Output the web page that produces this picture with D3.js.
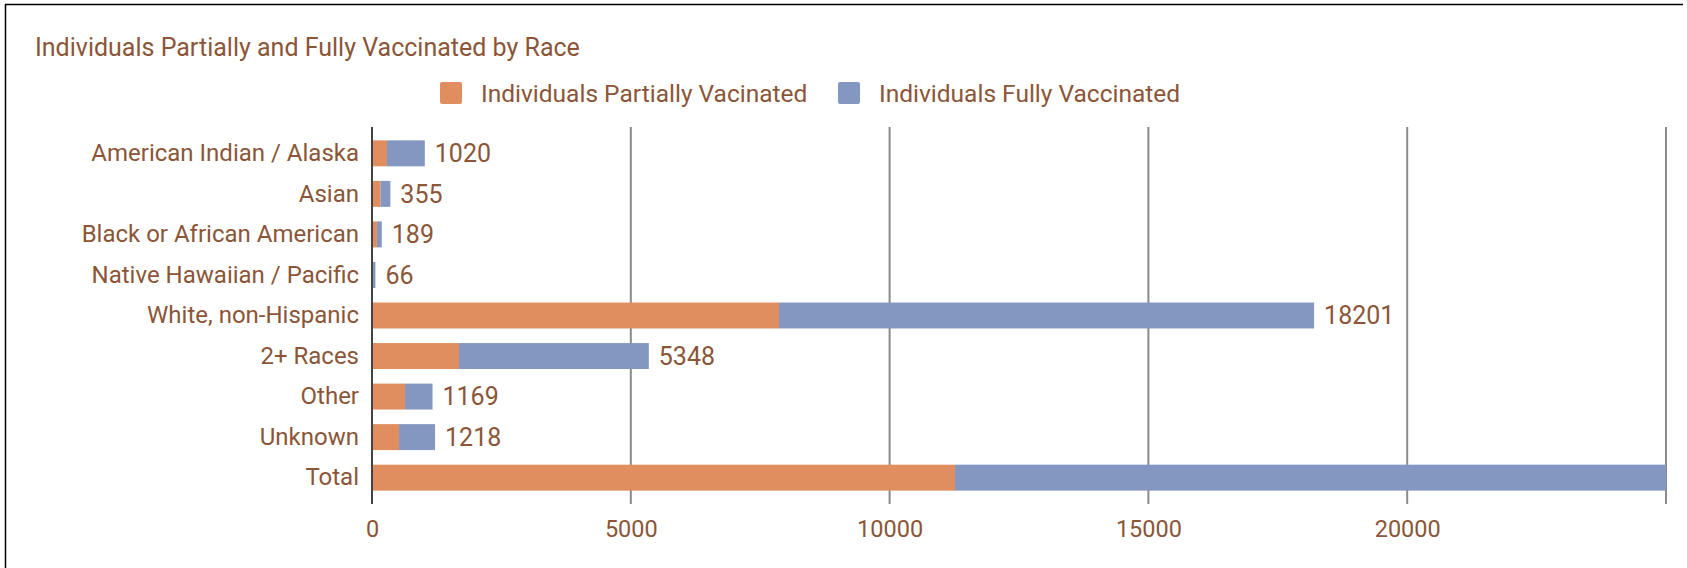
<!DOCTYPE html>
<html>
<head>
<meta charset="utf-8">
<script src="https://cdn.jsdelivr.net/npm/d3@7"></script>
<style>
  body { margin: 0; background: #fff; }
  svg { display: block; font-family: Roboto, "Open Sans", sans-serif; }
  .lbl { fill: #8b5637; }
</style>
</head>
<body>
<svg id="graphsvg" width="1687" height="568"></svg>
<script>
var categories = ["American Indian / Alaska", "Asian", "Black or African American",
  "Native Hawaiian / Pacific", "White, non-Hispanic", "2+ Races", "Other", "Unknown", "Total"];
var partialVals = [290, 165, 95, 10, 7863, 1681, 638, 522, 11264];
var fullVals = [730, 190, 94, 56, 10338, 3667, 531, 696, 16302];
var seriesNames = ["Individuals Partially Vacinated", "Individuals Fully Vaccinated"];
var tickLabels = [0, 5000, 10000, 15000, 20000];
var gridVals = [5000, 10000, 15000, 20000, 25000];

var colors = ["#e08e60", "#8397c0"];
var textColor = "#8b5637";

var svg = d3.select("#graphsvg");

// frame (only top and left visible)
svg.append("line").attr("x1", 5).attr("x2", 1683).attr("y1", 4.5).attr("y2", 4.5)
  .attr("stroke", "#000").attr("stroke-width", 1.5);
svg.append("line").attr("x1", 5.5).attr("x2", 5.5).attr("y1", 4).attr("y2", 568)
  .attr("stroke", "#000").attr("stroke-width", 1.5);

svg.append("text").attr("class", "lbl")
  .attr("x", 35).attr("y", 47).attr("dy", "0.35em")
  .style("font-size", "25px")
  .text("Individuals Partially and Fully Vaccinated by Race");

// legend
var legendX = [440, 838];
var lg = svg.selectAll(".legend").data(seriesNames).enter().append("g").attr("class", "legend");
lg.append("rect")
  .attr("x", function(d, i) { return legendX[i]; })
  .attr("y", 82).attr("width", 22).attr("height", 22).attr("rx", 2)
  .attr("fill", function(d, i) { return colors[i]; });
lg.append("text").attr("class", "lbl")
  .attr("x", function(d, i) { return legendX[i] + 41; })
  .attr("y", 93).attr("dy", "0.35em")
  .style("font-size", "24.5px")
  .text(function(d) { return d; });

var x = d3.scaleLinear().domain([0, 25000]).range([372, 1666]);
var y = d3.scaleBand().domain(categories).range([127, 504]).paddingInner(0.36).paddingOuter(0.33);

// gridlines
svg.append("g").selectAll("line").data(gridVals).enter().append("line")
  .attr("x1", function(d) { return x(d); }).attr("x2", function(d) { return x(d); })
  .attr("y1", 127).attr("y2", 504)
  .attr("stroke", "#8a8a8a").attr("stroke-width", 2);

// x axis labels
var xAxis = svg.append("g")
  .attr("transform", "translate(0,504)")
  .call(d3.axisBottom(x).tickValues(tickLabels).tickSize(0).tickPadding(16).tickFormat(d3.format("d")));
xAxis.select(".domain").remove();
xAxis.selectAll("text").attr("fill", textColor).style("font-size", "23.5px").style("font-family", "Roboto");

// stacked bars
var rows = categories.map(function(c, i) {
  return { cat: c, p: partialVals[i], f: fullVals[i], total: partialVals[i] + fullVals[i] };
});

svg.append("clipPath").attr("id", "plotclip")
  .append("rect").attr("x", 372).attr("y", 100).attr("width", 1666 - 372).attr("height", 420);

var bars = svg.append("g").attr("clip-path", "url(#plotclip)");
bars.selectAll(".bp").data(rows).enter().append("rect")
  .attr("x", x(0)).attr("y", function(d) { return y(d.cat); })
  .attr("height", y.bandwidth())
  .attr("width", function(d) { return x(d.p) - x(0); })
  .attr("fill", colors[0]);
bars.selectAll(".bf").data(rows).enter().append("rect")
  .attr("x", function(d) { return x(d.p); }).attr("y", function(d) { return y(d.cat); })
  .attr("height", y.bandwidth())
  .attr("width", function(d) { return x(d.total) - x(d.p); })
  .attr("fill", colors[1]);

// zero axis line
svg.append("line").attr("x1", x(0)).attr("x2", x(0)).attr("y1", 127).attr("y2", 504)
  .attr("stroke", "#444").attr("stroke-width", 2);

// category labels
var yAxis = svg.append("g")
  .attr("transform", "translate(" + x(0) + ",0)")
  .call(d3.axisLeft(y).tickSize(0).tickPadding(13));
yAxis.select(".domain").remove();
yAxis.selectAll("text").attr("fill", textColor).style("font-size", "24px").style("font-family", "Roboto");

// value labels
svg.append("g").selectAll("text").data(rows.filter(function(d) { return d.total <= x.domain()[1]; }))
  .enter().append("text").attr("class", "lbl")
  .attr("x", function(d) { return x(d.total) + 10; })
  .attr("y", function(d) { return y(d.cat) + y.bandwidth() / 2; })
  .attr("dy", "0.35em")
  .style("font-size", "25px")
  .text(function(d) { return d.total; });
</script>
</body>
</html>
